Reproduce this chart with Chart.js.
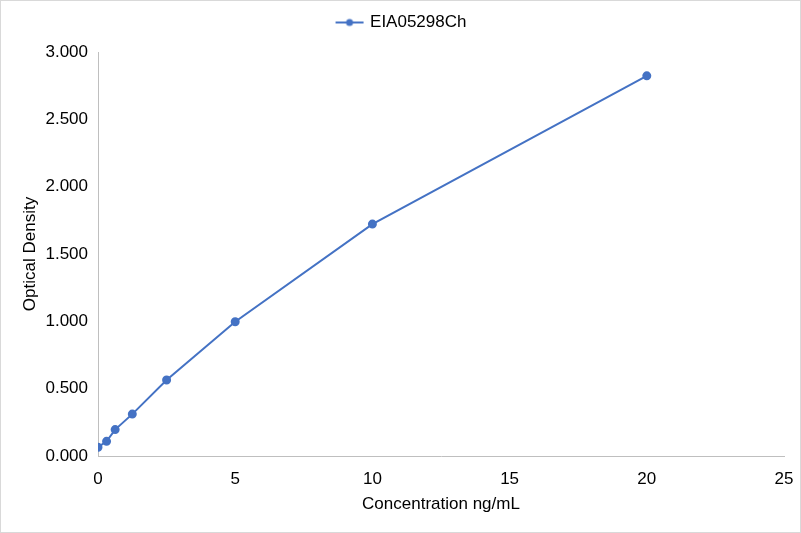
<!DOCTYPE html>
<html>
<head>
<meta charset="utf-8">
<script src="https://cdn.jsdelivr.net/npm/chart.js@4/dist/chart.umd.min.js"></script>
<style>
  html, body { margin: 0; padding: 0; background: #fff; }
  #wrap { position: relative; width: 799px; height: 531px; border: 1px solid #d9d9d9; }
</style>
</head>
<body>
<div id="wrap"><canvas id="chart"></canvas></div>
<script>
// Standard curve data
const seriesName = 'EIA05298Ch';
const concentrations = [0, 0.3125, 0.625, 1.25, 2.5, 5, 10, 20];
const densities = [0.065, 0.109, 0.196, 0.311, 0.564, 0.997, 1.722, 2.823];
const xTicks = [0, 5, 10, 15, 20, 25];
const yTicks = [0, 0.5, 1, 1.5, 2, 2.5, 3];

const blue = '#4472C4';
const font = { family: 'Liberation Sans, Arial', size: 17 };

// Legend marker: line with a dot, like the original
const marker = document.createElement('canvas');
marker.width = 30; marker.height = 10;
(function () {
  const c = marker.getContext('2d');
  c.strokeStyle = blue; c.lineWidth = 2;
  c.beginPath(); c.moveTo(1, 5); c.lineTo(29, 5); c.stroke();
  c.fillStyle = blue;
  c.beginPath(); c.arc(15, 5, 3.5, 0, Math.PI * 2); c.fill();
})();

const points = concentrations.map((x, i) => ({ x: x, y: densities[i] }));

const ctx = document.getElementById('chart').getContext('2d');
new Chart(ctx, {
  type: 'line',
  data: {
    datasets: [{
      label: seriesName,
      data: points,
      borderColor: blue,
      backgroundColor: blue,
      borderWidth: 2,
      pointRadius: 3.5,
      pointHoverRadius: 3.5,
      tension: 0
    }]
  },
  options: {
    responsive: true,
    maintainAspectRatio: false,
    animation: false,
    layout: { padding: { left: 19, right: 16, top: 1, bottom: 17 } },
    plugins: {
      legend: {
        display: true,
        position: 'top',
        labels: {
          font: font,
          color: '#000',
          usePointStyle: true,
          pointStyle: marker,
          pointStyleWidth: 24,
          padding: 12
        }
      },
      tooltip: { enabled: false }
    },
    scales: {
      x: {
        type: 'linear',
        min: 0,
        max: 25,
        afterBuildTicks: axis => { axis.ticks = xTicks.map(v => ({ value: v })); },
        afterFit: axis => { axis.height = 59; axis.paddingRight = 0; },
        grid: { display: false, drawTicks: false },
        border: { color: '#bfbfbf', width: 1 },
        ticks: { padding: 13, color: '#000', font: font },
        title: {
          display: true,
          text: 'Concentration ng/mL',
          color: '#000',
          font: font,
          padding: { top: 0, bottom: 0 }
        }
      },
      // empty band between legend and plot
      xTop: {
        type: 'linear',
        position: 'top',
        display: true,
        afterFit: axis => { axis.height = 11; axis.paddingRight = 0; },
        grid: { display: false, drawTicks: false },
        border: { display: false },
        ticks: { display: false }
      },
      y: {
        min: 0,
        max: 3,
        afterBuildTicks: axis => { axis.ticks = yTicks.map(v => ({ value: v })); },
        afterFit: axis => { axis.width = 78; },
        grid: { display: false, drawTicks: false },
        border: { color: '#bfbfbf', width: 1 },
        ticks: {
          padding: 10,
          color: '#000',
          font: font,
          callback: v => v.toFixed(3)
        },
        title: {
          display: true,
          text: 'Optical Density',
          color: '#000',
          font: font,
          padding: { top: 0, bottom: 0 }
        }
      }
    }
  }
});
</script>
</body>
</html>
